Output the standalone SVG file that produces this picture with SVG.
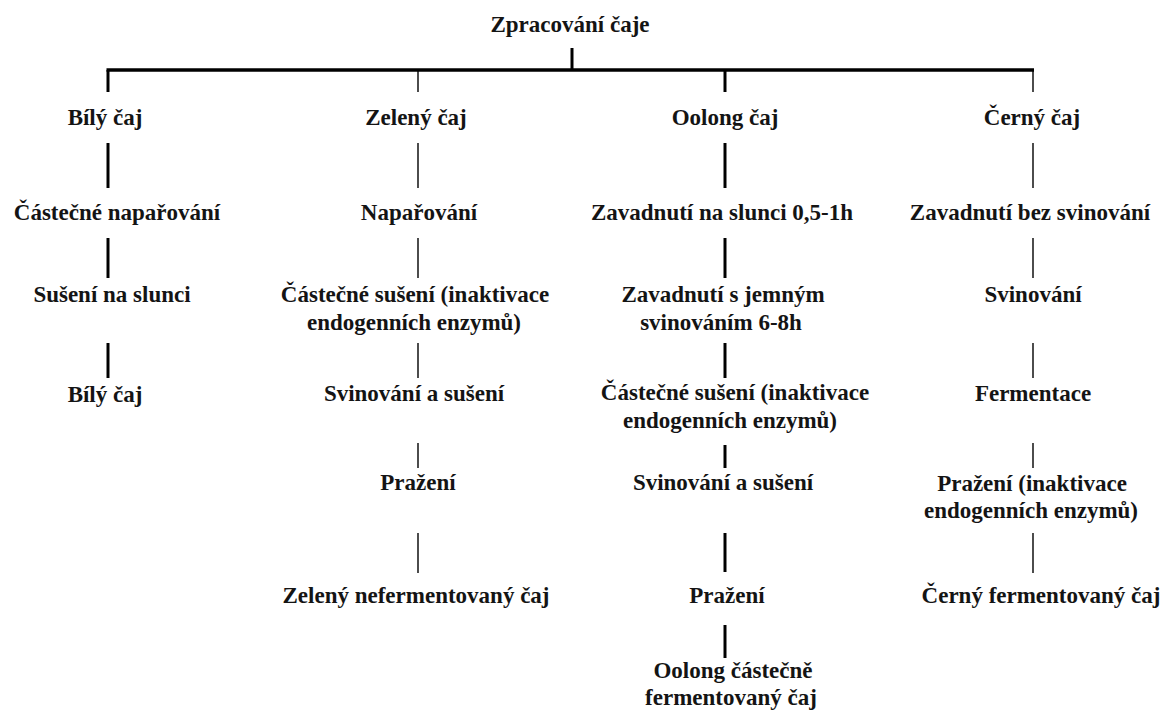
<svg xmlns="http://www.w3.org/2000/svg" width="1163" height="715" viewBox="0 0 1163 715">
<style>
text{font-family:'Liberation Serif','Tinos','DejaVu Serif',serif;font-weight:700;font-size:23px;fill:#141414;text-anchor:middle}
.thick{stroke:#000;stroke-width:3;fill:none}
.thin{stroke:#000;stroke-width:1.4;fill:none}
.bar{stroke:#000;stroke-width:3.5;fill:none}
</style>
<rect width="1163" height="715" fill="#fff"/>
<g id="connectors">
<line class="thick" x1="572" y1="48" x2="572" y2="70"/>
<line class="bar" x1="106.5" y1="70" x2="1034" y2="70"/>
<line class="thick" x1="108" y1="70" x2="108" y2="92"/>
<line class="thin" x1="418" y1="70" x2="418" y2="92"/>
<line class="thick" x1="725" y1="70" x2="725" y2="92"/>
<line class="thin" x1="1033" y1="70" x2="1033" y2="92"/>
<line class="thick" x1="108" y1="143" x2="108" y2="188"/>
<line class="thick" x1="108" y1="238" x2="108" y2="278"/>
<line class="thick" x1="108" y1="343" x2="108" y2="378"/>
<line class="thin" x1="418" y1="143" x2="418" y2="188"/>
<line class="thin" x1="418" y1="238" x2="418" y2="278"/>
<line class="thin" x1="418" y1="343" x2="418" y2="378"/>
<line class="thin" x1="418" y1="443" x2="418" y2="468"/>
<line class="thin" x1="418" y1="533" x2="418" y2="573"/>
<line class="thick" x1="725" y1="143" x2="725" y2="188"/>
<line class="thick" x1="725" y1="238" x2="725" y2="278"/>
<line class="thick" x1="725" y1="343" x2="725" y2="378"/>
<line class="thick" x1="725" y1="445" x2="725" y2="468"/>
<line class="thick" x1="725" y1="533" x2="725" y2="572"/>
<line class="thick" x1="725" y1="625" x2="725" y2="658"/>
<line class="thin" x1="1033" y1="143" x2="1033" y2="188"/>
<line class="thin" x1="1033" y1="238" x2="1033" y2="278"/>
<line class="thin" x1="1033" y1="343" x2="1033" y2="378"/>
<line class="thin" x1="1033" y1="443" x2="1033" y2="468"/>
<line class="thin" x1="1033" y1="533" x2="1033" y2="573"/>
</g>
<g id="root"><text x="570" y="32">Zpracování čaje</text></g>
<g id="bily">
<g id="bily-head"><text x="105" y="125">Bílý čaj</text></g>
<g id="bily-1"><text x="117" y="220">Částečné napařování</text></g>
<g id="bily-2"><text x="112" y="302">Sušení na slunci</text></g>
<g id="bily-3"><text x="105" y="402">Bílý čaj</text></g>
</g>
<g id="zeleny">
<g id="zeleny-head"><text x="416" y="125">Zelený čaj</text></g>
<g id="zeleny-1"><text x="419" y="220">Napařování</text></g>
<g id="zeleny-2"><text x="415" y="302">Částečné sušení (inaktivace</text><text x="414" y="330">endogenních enzymů)</text></g>
<g id="zeleny-3"><text x="414" y="401">Svinování a sušení</text></g>
<g id="zeleny-4"><text x="418" y="490">Pražení</text></g>
<g id="zeleny-5"><text x="416" y="603">Zelený nefermentovaný čaj</text></g>
</g>
<g id="oolong">
<g id="oolong-head"><text x="725" y="125">Oolong čaj</text></g>
<g id="oolong-1"><text x="722" y="220">Zavadnutí na slunci 0,5-1h</text></g>
<g id="oolong-2"><text x="723" y="302">Zavadnutí s jemným</text><text x="721" y="330">svinováním 6-8h</text></g>
<g id="oolong-3"><text x="735" y="400">Částečné sušení (inaktivace</text><text x="730" y="428">endogenních enzymů)</text></g>
<g id="oolong-4"><text x="723" y="490">Svinování a sušení</text></g>
<g id="oolong-5"><text x="727" y="603">Pražení</text></g>
<g id="oolong-6"><text x="733" y="678">Oolong částečně</text><text x="731" y="705">fermentovaný čaj</text></g>
</g>
<g id="cerny">
<g id="cerny-head"><text x="1032" y="125">Černý čaj</text></g>
<g id="cerny-1"><text x="1030" y="220">Zavadnutí bez svinování</text></g>
<g id="cerny-2"><text x="1033" y="302">Svinování</text></g>
<g id="cerny-3"><text x="1033" y="401">Fermentace</text></g>
<g id="cerny-4"><text x="1032" y="491">Pražení (inaktivace</text><text x="1031" y="518">endogenních enzymů)</text></g>
<g id="cerny-5"><text x="1041" y="603">Černý fermentovaný čaj</text></g>
</g>
</svg>
